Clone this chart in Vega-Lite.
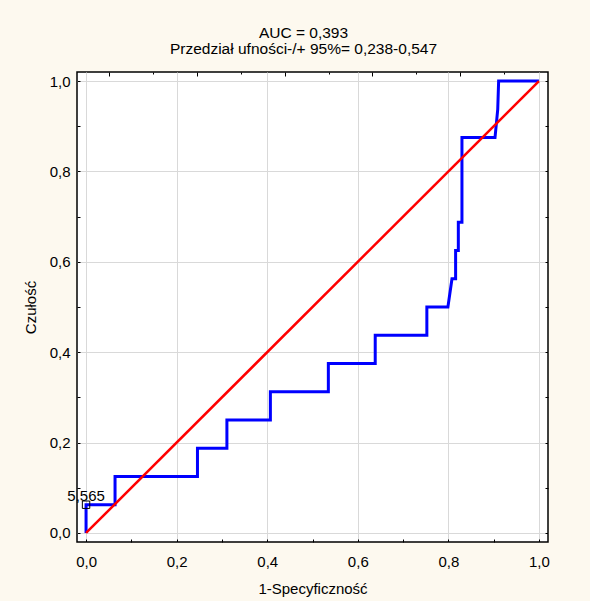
{
  "$schema": "https://vega.github.io/schema/vega-lite/v6.json",
  "width": 471,
  "height": 470,
  "padding": {"left": 23, "top": 26, "right": 40, "bottom": 5},
  "background": "#fdf9ef",
  "title": {
    "text": ["AUC = 0,393", "Przedział ufności-/+ 95%= 0,238-0,547"],
    "fontSize": 15.5,
    "font": "Liberation Sans",
    "fontWeight": "normal",
    "lineHeight": 16,
    "offset": 14,
    "dx": -9,
    "color": "#000000"
  },
  "config": {
    "view": {"stroke": "#000000", "strokeWidth": 1.5, "fill": "white"},
    "font": "Liberation Sans"
  },
  "datasets": {
    "roc": [
      {"i": 0, "fpr": 0.0, "tpr": 0.0},
      {"i": 1, "fpr": 0.0, "tpr": 0.0625},
      {"i": 2, "fpr": 0.064, "tpr": 0.0625},
      {"i": 3, "fpr": 0.064, "tpr": 0.125},
      {"i": 4, "fpr": 0.246, "tpr": 0.125},
      {"i": 5, "fpr": 0.246, "tpr": 0.1875},
      {"i": 6, "fpr": 0.311, "tpr": 0.1875},
      {"i": 7, "fpr": 0.311, "tpr": 0.25},
      {"i": 8, "fpr": 0.407, "tpr": 0.25},
      {"i": 9, "fpr": 0.407, "tpr": 0.3125},
      {"i": 10, "fpr": 0.535, "tpr": 0.3125},
      {"i": 11, "fpr": 0.535, "tpr": 0.375},
      {"i": 12, "fpr": 0.6385, "tpr": 0.375},
      {"i": 13, "fpr": 0.6385, "tpr": 0.4375},
      {"i": 14, "fpr": 0.7525, "tpr": 0.4375},
      {"i": 15, "fpr": 0.7525, "tpr": 0.5},
      {"i": 16, "fpr": 0.799, "tpr": 0.5},
      {"i": 17, "fpr": 0.808, "tpr": 0.5625},
      {"i": 18, "fpr": 0.816, "tpr": 0.5625},
      {"i": 19, "fpr": 0.816, "tpr": 0.625},
      {"i": 20, "fpr": 0.822, "tpr": 0.625},
      {"i": 21, "fpr": 0.822, "tpr": 0.6875},
      {"i": 22, "fpr": 0.83, "tpr": 0.6875},
      {"i": 23, "fpr": 0.83, "tpr": 0.875},
      {"i": 24, "fpr": 0.903, "tpr": 0.875},
      {"i": 25, "fpr": 0.909, "tpr": 0.9375},
      {"i": 26, "fpr": 0.911, "tpr": 1.0},
      {"i": 27, "fpr": 1.0, "tpr": 1.0}
    ],
    "diag": [
      {"i": 0, "fpr": 0.0, "tpr": 0.0},
      {"i": 1, "fpr": 1.0, "tpr": 1.0}
    ],
    "cut": [
      {"fpr": 0.0, "tpr": 0.0625, "label": "5,565"}
    ]
  },
  "resolve": {"axis": {"x": "independent", "y": "independent"}},
  "layer": [
    {
      "data": {"name": "roc"},
      "mark": {"type": "line", "color": "#0000ff", "strokeWidth": 3, "interpolate": "linear"},
      "encoding": {
        "x": {
          "field": "fpr", "type": "quantitative",
          "scale": {"domain": [-0.02, 1.02], "nice": false, "zero": false},
          "axis": {
            "orient": "bottom", "values": [0, 0.2, 0.4, 0.6, 0.8, 1],
            "labelExpr": "replace(format(datum.value,'.1f'),'.',',')",
            "ticks": false, "domain": false, "grid": true,
            "gridColor": "#d9d9d9", "gridWidth": 1,
            "labelFontSize": 15, "labelColor": "#000000", "labelPadding": 12,
            "labelFlush": false,
            "title": "1-Specyficzność", "titleFontSize": 15, "titleFontWeight": "normal",
            "titlePadding": 12, "titleColor": "#000000"
          }
        },
        "y": {
          "field": "tpr", "type": "quantitative",
          "scale": {"domain": [-0.02, 1.02], "nice": false, "zero": false},
          "axis": {
            "orient": "left", "values": [0, 0.2, 0.4, 0.6, 0.8, 1],
            "labelExpr": "replace(format(datum.value,'.1f'),'.',',')",
            "ticks": false, "domain": false, "grid": true,
            "gridColor": "#d9d9d9", "gridWidth": 1,
            "labelFontSize": 15, "labelColor": "#000000", "labelPadding": 7,
            "labelFlush": false,
            "title": "Czułość", "titleFontSize": 15, "titleFontWeight": "normal",
            "titlePadding": 11, "titleColor": "#000000"
          }
        },
        "order": {"field": "i", "type": "quantitative"}
      }
    },
    {
      "data": {"name": "diag"},
      "mark": {"type": "line", "color": "#ff0000", "strokeWidth": 2.5},
      "encoding": {
        "x": {
          "field": "fpr", "type": "quantitative",
          "scale": {"domain": [-0.02, 1.02], "nice": false, "zero": false},
          "axis": {
            "orient": "bottom", "values": [0, 0.1, 0.2, 0.3, 0.4, 0.5, 0.6, 0.7, 0.8, 0.9, 1],
            "labels": false, "ticks": true, "tickSize": -3, "tickColor": "#000000",
            "domain": false, "grid": false, "title": null
          }
        },
        "y": {
          "field": "tpr", "type": "quantitative",
          "scale": {"domain": [-0.02, 1.02], "nice": false, "zero": false},
          "axis": {
            "orient": "left", "values": [0, 0.1, 0.2, 0.3, 0.4, 0.5, 0.6, 0.7, 0.8, 0.9, 1],
            "labels": false, "ticks": true, "tickSize": -3, "tickColor": "#000000",
            "domain": false, "grid": false, "title": null
          }
        },
        "order": {"field": "i", "type": "quantitative"}
      }
    },
    {
      "data": {"name": "cut"},
      "mark": {"type": "point", "shape": "square", "filled": false, "color": "#000000", "strokeWidth": 1, "size": 55, "opacity": 1},
      "encoding": {
        "x": {
          "field": "fpr", "type": "quantitative",
          "scale": {"domain": [-0.02, 1.02], "nice": false, "zero": false},
          "axis": {
            "orient": "top", "values": [0.0516, 0.2452, 0.4388, 0.6324, 0.826],
            "labels": false, "ticks": true, "tickSize": -4, "tickColor": "#000000",
            "domain": false, "grid": false, "title": null
          }
        },
        "y": {
          "field": "tpr", "type": "quantitative",
          "scale": {"domain": [-0.02, 1.02], "nice": false, "zero": false},
          "axis": {
            "orient": "right", "values": [0, 0.1, 0.2, 0.3, 0.4, 0.5, 0.6, 0.7, 0.8, 0.9, 1],
            "labels": false, "ticks": true, "tickSize": -3, "tickColor": "#000000",
            "domain": false, "grid": false, "title": null
          }
        }
      }
    },
    {
      "data": {"name": "cut"},
      "mark": {"type": "text", "fontSize": 15, "align": "center", "baseline": "alphabetic", "dy": -4, "color": "#000000"},
      "encoding": {
        "x": {
          "field": "fpr", "type": "quantitative",
          "scale": {"domain": [-0.02, 1.02], "nice": false, "zero": false},
          "axis": {
            "orient": "top", "values": [0.1484, 0.342, 0.5356, 0.7292, 0.9228],
            "labels": false, "ticks": true, "tickSize": -2, "tickColor": "#000000",
            "domain": false, "grid": false, "title": null
          }
        },
        "y": {
          "field": "tpr", "type": "quantitative",
          "scale": {"domain": [-0.02, 1.02], "nice": false, "zero": false},
          "axis": null
        },
        "text": {"field": "label"}
      }
    }
  ]
}
